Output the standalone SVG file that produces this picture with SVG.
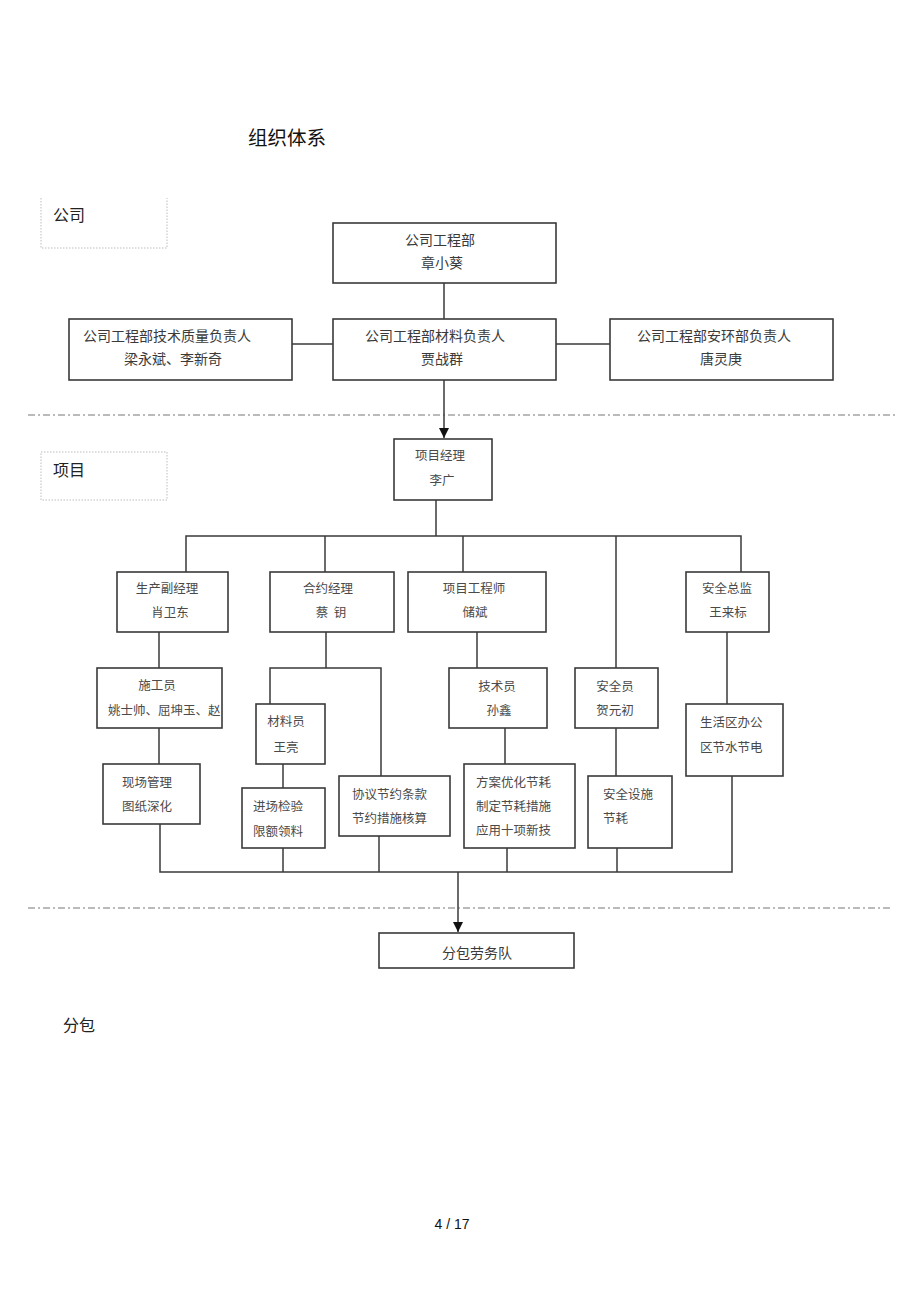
<svg xmlns="http://www.w3.org/2000/svg" width="920" height="1303" viewBox="0 0 920 1303">
<defs>
<style>
.bg{fill:#fff}
.box{fill:#fff;stroke:#3a3a3a;stroke-width:1.6}
.lbl{fill:none;stroke:#bdbdbd;stroke-width:1;stroke-dasharray:1.5 1.5}
.ln{fill:none;stroke:#3a3a3a;stroke-width:1.5}
.sep{fill:none;stroke:#777;stroke-width:1;stroke-dasharray:7 3 2 3}
.t{font-family:"Noto Sans CJK SC","Liberation Serif",serif;fill:#4a4a4a;font-size:12.5px}
.tm{font-family:"Noto Sans CJK SC","Liberation Serif",serif;fill:#3a3a3a;font-size:14px}
.c{text-anchor:middle}
.h{font-family:"Noto Sans CJK SC","Liberation Sans",sans-serif;fill:#111;font-size:19.5px}
.s{font-family:"Noto Sans CJK SC","Liberation Serif",serif;fill:#222;font-size:16px}
.pg{font-family:"Liberation Sans",sans-serif;fill:#111;font-size:14px;text-anchor:middle}
</style>
<marker id="arr" viewBox="0 0 10 10" refX="10" refY="5" markerWidth="10" markerHeight="10" markerUnits="userSpaceOnUse" orient="auto">
<path d="M0,0 L10,5 L0,10 z" fill="#111"/>
</marker>
</defs>
<rect class="bg" x="0" y="0" width="920" height="1303"/>

<text class="h" x="248" y="145">组织体系</text>

<g id="section-company">
<path class="lbl" d="M41,198 V248 H167 V198"/>
<text class="s" x="53" y="221">公司</text>
</g>
<g id="section-project">
<rect class="lbl" x="41" y="452" width="126" height="48"/>
<text class="s" x="53" y="476">项目</text>
</g>
<text class="s" id="section-sub" x="63" y="1031">分包</text>

<g id="separators">
<line class="sep" x1="28" y1="415" x2="897" y2="415"/>
<line class="sep" x1="28" y1="908" x2="890" y2="908"/>
</g>

<g id="connectors">
<line class="ln" x1="444" y1="283" x2="444" y2="319"/>
<line class="ln" x1="292" y1="344" x2="333" y2="344"/>
<line class="ln" x1="556" y1="344" x2="610" y2="344"/>
<line class="ln" x1="444" y1="380" x2="444" y2="438" marker-end="url(#arr)"/>
<line class="ln" x1="436" y1="500" x2="436" y2="536"/>
<polyline class="ln" points="186,572 186,536 741,536 741,572"/>
<line class="ln" x1="325" y1="536" x2="325" y2="572"/>
<line class="ln" x1="463" y1="536" x2="463" y2="572"/>
<line class="ln" x1="616" y1="536" x2="616" y2="668"/>
<line class="ln" x1="159" y1="632" x2="159" y2="668"/>
<line class="ln" x1="159" y1="728" x2="159" y2="764"/>
<line class="ln" x1="326" y1="632" x2="326" y2="668"/>
<polyline class="ln" points="270,704 270,668 381,668 381,776"/>
<line class="ln" x1="283" y1="764" x2="283" y2="788"/>
<line class="ln" x1="477" y1="632" x2="477" y2="668"/>
<line class="ln" x1="505" y1="728" x2="505" y2="764"/>
<line class="ln" x1="616" y1="728" x2="616" y2="776"/>
<line class="ln" x1="727" y1="632" x2="727" y2="704"/>
<polyline class="ln" points="160,824 160,872 732,872 732,776"/>
<line class="ln" x1="283" y1="848" x2="283" y2="872"/>
<line class="ln" x1="379" y1="836" x2="379" y2="872"/>
<line class="ln" x1="507" y1="848" x2="507" y2="872"/>
<line class="ln" x1="617" y1="848" x2="617" y2="872"/>
<line class="ln" x1="458" y1="872" x2="458" y2="932" marker-end="url(#arr)"/>
</g>

<g id="n-dept">
<rect class="box" x="333" y="223" width="223" height="60"/>
<text class="tm c" x="440" y="245">公司工程部</text>
<text class="tm c" x="442" y="268">章小葵</text>
</g>
<g id="n-quality">
<rect class="box" x="69" y="319" width="223" height="61"/>
<text class="tm c" x="167" y="341">公司工程部技术质量负责人</text>
<text class="tm c" x="173" y="364">梁永斌、李新奇</text>
</g>
<g id="n-material">
<rect class="box" x="333" y="319" width="223" height="61"/>
<text class="tm c" x="435" y="341">公司工程部材料负责人</text>
<text class="tm c" x="442" y="364">贾战群</text>
</g>
<g id="n-safety-env">
<rect class="box" x="610" y="319" width="223" height="61"/>
<text class="tm c" x="714" y="341">公司工程部安环部负责人</text>
<text class="tm c" x="721" y="364">唐灵庚</text>
</g>

<g id="n-pm">
<rect class="box" x="394" y="439" width="98" height="61"/>
<text class="t c" x="440" y="460">项目经理</text>
<text class="t c" x="442" y="485">李广</text>
</g>

<g id="n-prod">
<rect class="box" x="117" y="572" width="111" height="60"/>
<text class="t c" x="167" y="593">生产副经理</text>
<text class="t c" x="170" y="617">肖卫东</text>
</g>
<g id="n-contract">
<rect class="box" x="270" y="572" width="124" height="60"/>
<text class="t c" x="328" y="593">合约经理</text>
<text class="t c" x="331" y="617">蔡&#160;&#160;钥</text>
</g>
<g id="n-engineer">
<rect class="box" x="408" y="572" width="138" height="60"/>
<text class="t c" x="474" y="593">项目工程师</text>
<text class="t c" x="475" y="617">储斌</text>
</g>
<g id="n-safety-chief">
<rect class="box" x="686" y="572" width="83" height="60"/>
<text class="t c" x="727" y="593">安全总监</text>
<text class="t c" x="728" y="617">王来标</text>
</g>

<g id="n-constructor">
<rect class="box" x="97" y="668" width="125" height="60"/>
<text class="t c" x="157" y="690">施工员</text>
<text class="t" x="108" y="715">姚士帅、屈坤玉、赵</text>
</g>
<g id="n-site">
<rect class="box" x="103" y="764" width="97" height="60"/>
<text class="t c" x="147" y="787">现场管理</text>
<text class="t c" x="147" y="811">图纸深化</text>
</g>
<g id="n-materialman">
<rect class="box" x="256" y="704" width="69" height="60"/>
<text class="t c" x="286" y="726">材料员</text>
<text class="t c" x="286" y="752">王亮</text>
</g>
<g id="n-inspect">
<rect class="box" x="242" y="788" width="83" height="60"/>
<text class="t" x="253" y="811">进场检验</text>
<text class="t" x="253" y="836">限额领料</text>
</g>
<g id="n-agreement">
<rect class="box" x="339" y="776" width="111" height="60"/>
<text class="t" x="352" y="799">协议节约条款</text>
<text class="t" x="352" y="823">节约措施核算</text>
</g>
<g id="n-tech">
<rect class="box" x="449" y="668" width="98" height="60"/>
<text class="t c" x="497" y="691">技术员</text>
<text class="t c" x="499" y="715">孙鑫</text>
</g>
<g id="n-plan">
<rect class="box" x="464" y="764" width="111" height="84"/>
<text class="t" x="476" y="787">方案优化节耗</text>
<text class="t" x="476" y="811">制定节耗措施</text>
<text class="t" x="476" y="835">应用十项新技</text>
</g>
<g id="n-safetyman">
<rect class="box" x="575" y="668" width="83" height="60"/>
<text class="t c" x="615" y="691">安全员</text>
<text class="t c" x="615" y="715">贺元初</text>
</g>
<g id="n-facility">
<rect class="box" x="588" y="776" width="84" height="72"/>
<text class="t" x="603" y="799">安全设施</text>
<text class="t" x="603" y="823">节耗</text>
</g>
<g id="n-living">
<rect class="box" x="686" y="704" width="97" height="72"/>
<text class="t" x="700" y="727">生活区办公</text>
<text class="t" x="700" y="752">区节水节电</text>
</g>

<g id="n-labor">
<rect class="box" x="379" y="933" width="195" height="35"/>
<text class="tm c" x="477" y="958">分包劳务队</text>
</g>

<text class="pg" x="452" y="1229">4 / 17</text>
</svg>
